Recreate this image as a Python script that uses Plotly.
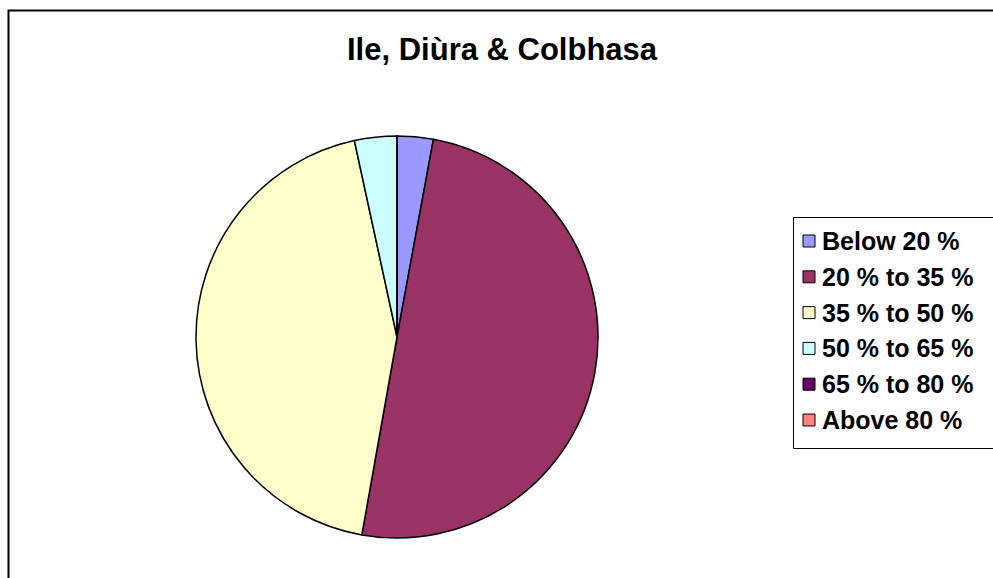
import plotly.graph_objects as go

TITLE = "Ile, Diùra & Colbhasa"
LABELS = ["Below 20 %", "20 % to 35 %", "35 % to 50 %", "50 % to 65 %", "65 % to 80 %", "Above 80 %"]
VALUES = [2.9, 49.9, 43.8, 3.4, 0, 0]
COLORS = ["#9999FF", "#993366", "#FFFFCC", "#CCFFFF", "#660066", "#FF8080"]

W, H = 993, 578
FONT = "Arial, 'Liberation Sans', Helvetica, sans-serif"

def px(x):
    return x / W

def py(y):
    return 1 - y / H

fig = go.Figure()
fig.add_trace(go.Pie(
    labels=LABELS,
    values=VALUES,
    marker=dict(colors=COLORS, line=dict(color="black", width=1.5)),
    sort=False,
    direction="clockwise",
    rotation=0,
    textinfo="none",
    hoverinfo="label+percent",
    showlegend=False,
    domain=dict(x=[px(196), px(598)], y=[py(538), py(136)]),
))

shapes = [
    dict(type="rect", xref="paper", yref="paper",
         x0=px(8.5), x1=px(W + 20), y0=py(H + 20), y1=py(10.5),
         line=dict(color="black", width=2), fillcolor="rgba(0,0,0,0)", layer="above"),
    dict(type="rect", xref="paper", yref="paper",
         x0=px(793.5), x1=px(W + 20), y0=py(448.5), y1=py(217.5),
         line=dict(color="black", width=1), fillcolor="white", layer="below"),
]
annotations = [
    dict(text="<b>%s</b>" % TITLE, xref="paper", yref="paper",
         x=px(503), y=py(50), xanchor="center", yanchor="middle",
         showarrow=False, font=dict(family=FONT, size=31, color="black")),
]

row0, step = 241, 35.8
for i, (lab, col) in enumerate(zip(LABELS, COLORS)):
    yc = row0 + i * step
    shapes.append(dict(type="rect", xref="paper", yref="paper",
                       x0=px(803), x1=px(815), y0=py(yc + 6), y1=py(yc - 6),
                       line=dict(color="black", width=1), fillcolor=col, layer="above"))
    annotations.append(dict(text="<b>%s</b>" % lab, xref="paper", yref="paper",
                            x=px(820), y=py(yc), xanchor="left", yanchor="middle",
                            showarrow=False,
                            font=dict(family=FONT, size=25, color="black")))

fig.update_layout(
    width=W, height=H,
    margin=dict(l=0, r=0, t=0, b=0),
    paper_bgcolor="white",
    plot_bgcolor="white",
    shapes=shapes,
    annotations=annotations,
    showlegend=False,
)

fig.write_html("out.html")
